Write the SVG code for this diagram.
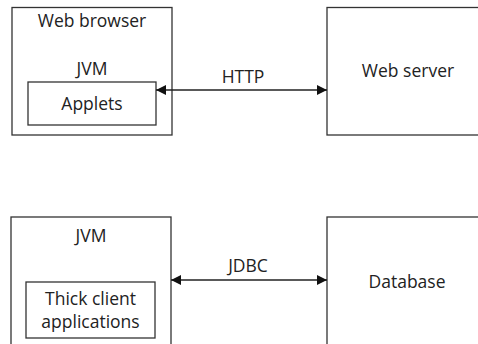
<svg xmlns="http://www.w3.org/2000/svg" width="478" height="344" viewBox="0 0 478 344">
  <style>
    .box { fill: #ffffff; stroke: #333333; stroke-width: 1.3; }
    .lbl { font-family: "Open Sans", "Noto Sans", sans-serif; font-size: 17.5px; fill: #222222; text-anchor: middle; }
    .conn { stroke: #222222; stroke-width: 1.3; fill: none; }
  </style>
  <defs>
    <marker id="arrow" viewBox="0 0 10 10" refX="10" refY="5" markerWidth="10" markerHeight="10" markerUnits="userSpaceOnUse" orient="auto-start-reverse">
      <path d="M0,0 L10,5 L0,10 Z" fill="#111111"/>
    </marker>
  </defs>
  <rect width="478" height="344" fill="#ffffff"/>

  <!-- Web browser hosting the JVM and applets -->
  <g id="web-browser">
    <rect class="box" x="12" y="7.5" width="160" height="127.5"/>
    <text class="lbl" x="92" y="27">Web browser</text>
    <text class="lbl" x="92" y="75">JVM</text>
    <g id="applets">
      <rect class="box" x="28" y="82" width="128" height="43"/>
      <text class="lbl" x="92" y="110">Applets</text>
    </g>
  </g>

  <g id="web-server">
    <rect class="box" x="327" y="7.5" width="160" height="127.5"/>
    <text class="lbl" x="408" y="77">Web server</text>
  </g>

  <!-- Standalone JVM running thick clients -->
  <g id="jvm">
    <rect class="box" x="11" y="217" width="160" height="140"/>
    <text class="lbl" x="91" y="242">JVM</text>
    <g id="thick-client">
      <rect class="box" x="26" y="282" width="129" height="56"/>
      <text class="lbl" x="90.5" y="305">Thick client</text>
      <text class="lbl" x="90.5" y="328">applications</text>
    </g>
  </g>

  <g id="database">
    <rect class="box" x="327" y="217" width="160" height="140"/>
    <text class="lbl" x="407" y="288">Database</text>
  </g>

  <g id="connectors">
    <line class="conn" x1="156" y1="90" x2="327" y2="90" marker-start="url(#arrow)" marker-end="url(#arrow)"/>
    <text class="lbl" x="243" y="83">HTTP</text>
    <line class="conn" x1="171" y1="280" x2="327" y2="280" marker-start="url(#arrow)" marker-end="url(#arrow)"/>
    <text class="lbl" x="248" y="272">JDBC</text>
  </g>
</svg>
